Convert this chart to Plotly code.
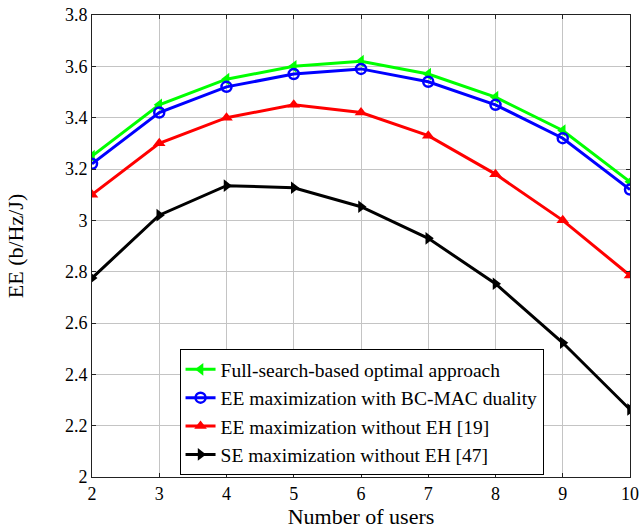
import plotly.graph_objects as go

users = [2, 3, 4, 5, 6, 7, 8, 9, 10]
full_search = [3.25, 3.45, 3.55, 3.60, 3.62, 3.57, 3.48, 3.35, 3.15]
bc_mac = [3.22, 3.42, 3.52, 3.57, 3.59, 3.54, 3.45, 3.32, 3.12]
ee_no_eh = [3.10, 3.30, 3.40, 3.45, 3.42, 3.33, 3.18, 3.00, 2.785]
se_no_eh = [2.775, 3.02, 3.135, 3.127, 3.053, 2.93, 2.753, 2.523, 2.263]

names = ["Full-search-based optimal approach",
         "EE maximization with BC-MAC duality",
         "EE maximization without EH [19]",
         "SE maximization without EH [47]"]

fig = go.Figure()
fig.add_trace(go.Scatter(x=users, y=full_search, name=names[0], mode="lines+markers",
                         line=dict(color="#00ff00", width=3),
                         marker=dict(symbol="triangle-left", size=11, color="#00ff00")))
fig.add_trace(go.Scatter(x=users, y=bc_mac, name=names[1], mode="lines+markers",
                         line=dict(color="#0000ff", width=3),
                         marker=dict(symbol="circle-open", size=10, color="#0000ff",
                                     line=dict(width=2.5, color="#0000ff"))))
fig.add_trace(go.Scatter(x=users, y=ee_no_eh, name=names[2], mode="lines+markers",
                         line=dict(color="#ff0000", width=3),
                         marker=dict(symbol="triangle-up", size=11, color="#ff0000")))
fig.add_trace(go.Scatter(x=users, y=se_no_eh, name=names[3], mode="lines+markers",
                         line=dict(color="#000000", width=3),
                         marker=dict(symbol="triangle-right", size=11, color="#000000")))

font = "Liberation Serif, Times New Roman, serif"
fig.update_layout(
    width=639, height=529,
    margin=dict(l=92, r=9, t=15, b=52),
    paper_bgcolor="white", plot_bgcolor="white",
    font=dict(family=font, size=18, color="black"),
    showlegend=True,
    legend=dict(x=0.501, y=0.004, xanchor="center", yanchor="bottom",
                bordercolor="black", borderwidth=1, bgcolor="white",
                font=dict(family=font, size=19.5),
                traceorder="normal", itemwidth=30),
)
fig.update_xaxes(range=[2, 10], tickvals=users, ticktext=[str(u) for u in users],
                 showgrid=True, gridcolor="#c4c4c4", gridwidth=1,
                 showline=True, linecolor="#222", linewidth=1, mirror="ticks",
                 ticks="inside", ticklen=4, tickcolor="#222",
                 automargin=False,
                 title=dict(text="Number of users", standoff=12),
                 zeroline=False)
fig.update_yaxes(range=[2, 3.8], tickvals=[2, 2.2, 2.4, 2.6, 2.8, 3, 3.2, 3.4, 3.6, 3.8],
                 ticktext=["2", "2.2", "2.4", "2.6", "2.8", "3", "3.2", "3.4", "3.6", "3.8"],
                 showgrid=True, gridcolor="#c4c4c4", gridwidth=1,
                 showline=True, linecolor="#222", linewidth=1, mirror="ticks",
                 ticks="inside", ticklen=4, tickcolor="#222",
                 automargin=False,
                 title=dict(text="EE (b/Hz/J)", standoff=35),
                 zeroline=False)

fig.write_html("out.html", config={"displayModeBar": False},
               post_script="document.body.style.margin='0px';document.body.style.overflow='hidden';")
